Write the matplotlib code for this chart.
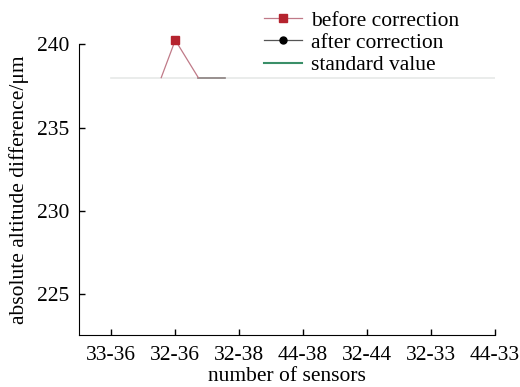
import matplotlib.pyplot as plt
from matplotlib.lines import Line2D

plt.rcParams['font.family'] = ['Liberation Serif', 'DejaVu Serif']

# 数据
pairs = ["33-36", "32-36", "32-38", "44-38", "32-44", "32-33", "44-33"]
before_x = [0.78, 1.0, 1.36]
before_y = [238.0, 240.25, 238.0]
after_x = [1.36, 1.78]
after_y = [238.0, 238.0]
standard_value = 238.0

fig = plt.figure(figsize=(5.2, 3.87), dpi=100)
ax = fig.add_axes([0.1526, 0.1344, 0.7994, 0.7511])

# 标准值 (很淡的线)
ax.plot([0, len(pairs) - 1], [standard_value, standard_value],
        color='#e6e9e8', lw=1.2, zorder=1)
# 修正后
ax.plot(after_x, after_y, color='#8a8080', lw=1.2, zorder=2)
# 修正前
ax.plot(before_x, before_y, color='#c07a88', lw=0.9, zorder=3)
ax.plot([before_x[1]], [before_y[1]], 's', color='#b5232e', ms=6,
        clip_on=False, zorder=4)

ax.set_xlim(-0.5, 6.0)
ax.set_ylim(222.56, 240)
ax.set_xticks(range(len(pairs)))
ax.set_xticklabels(pairs)
ax.set_yticks([225, 230, 235, 240])
ax.tick_params(direction='in', length=4, labelsize=15.5, width=1)
ax.tick_params(axis='x', pad=8)
ax.tick_params(axis='y', pad=7)
ax.spines['top'].set_visible(False)
ax.spines['right'].set_visible(False)
ax.set_xlabel("number of sensors", fontsize=15.5, labelpad=1.5)
ax.set_ylabel("absolute altitude difference/\u03bcm", fontsize=15.5, labelpad=6)

handles = [
    Line2D([], [], color='#c07a88', lw=0.9, marker='s', ms=6,
           markerfacecolor='#b5232e', markeredgecolor='#b5232e'),
    Line2D([], [], color='#555555', lw=0.9, marker='o', ms=5,
           markerfacecolor='black', markeredgecolor='black'),
    Line2D([], [], color='#3a8f68', lw=1.5),
]
fig.legend(handles, ["before correction", "after correction", "standard value"],
           loc='upper left', bbox_to_anchor=(0.491, 0.995), frameon=False,
           fontsize=15.5, handlelength=1.75, handletextpad=0.45,
           labelspacing=0.1, borderaxespad=0)

fig.savefig("out.png", dpi=100)
